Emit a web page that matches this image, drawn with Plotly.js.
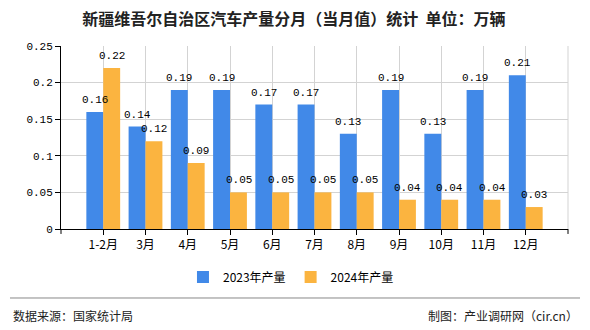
<!DOCTYPE html>
<html>
<head>
<meta charset="utf-8">
<script src="https://cdn.plot.ly/plotly-3.0.1.min.js"></script>
<style>html,body{margin:0;padding:0;background:#fff;}#chart{width:590px;height:330px;}</style>
</head>
<body>
<div id="chart"></div>
<script>
const categories = ["1-2月","3月","4月","5月","6月","7月","8月","9月","10月","11月","12月"];
const series2023 = [0.16,0.14,0.19,0.19,0.17,0.17,0.13,0.19,0.13,0.19,0.21];
const series2024 = [0.22,0.12,0.09,0.05,0.05,0.05,0.05,0.04,0.04,0.04,0.03];
const seriesNames = ["2023年产量","2024年产量"];
const yTickVals = [0,0.05,0.1,0.15,0.2,0.25];
const yTickText = ["0","0.05","0.1","0.15","0.2","0.25"];

const cjk = '"Noto Sans CJK SC", "Noto Sans", sans-serif';
const mono = '"Liberation Mono", "DejaVu Sans Mono", monospace';

function barTrace(name, vals, color){
  return {
    type:'bar', name:name, x:categories, y:vals,
    marker:{color:color, line:{width:0}},
    hoverinfo:'none'
  };
}

const data = [
  barTrace(seriesNames[0], series2023, '#4189e8'),
  barTrace(seriesNames[1], series2024, '#fbb440')
];

function labelAnns(vals, xshift){
  return vals.map((v,i)=>({
    x:categories[i], y:v, xref:'x', yref:'y', text:String(v), showarrow:false,
    xanchor:'center', yanchor:'middle', xshift:xshift, yshift:12,
    font:{family:mono, size:11, color:'#000'}
  }));
}

const layout = {
  width:590, height:330,
  margin:{l:61, r:22, t:46, b:101, pad:0},
  paper_bgcolor:'#fff', plot_bgcolor:'#fff',
  barmode:'group', bargap:0.2, bargroupgap:0,
  title:{text:'新疆维吾尔自治区汽车产量分月（当月值）统计  单位：万辆',
         font:{family:cjk, size:16, color:'#222', weight:'bold'},
         x:0.498, xref:'container', xanchor:'center', y:0.942, yref:'container', yanchor:'middle'},
  xaxis:{type:'category', range:[-1, categories.length],
         showline:true, linecolor:'#000', linewidth:1,
         ticks:'outside', ticklen:5, tickcolor:'#000', tickwidth:1,
         showgrid:true, gridcolor:'#d3d3d3', gridwidth:1,
         tickfont:{family:cjk, size:12, color:'#000'}, zeroline:false, fixedrange:true},
  yaxis:{range:[0,0.25], tickvals:yTickVals, ticktext:yTickText,
         showline:true, linecolor:'#000', linewidth:1,
         ticks:'outside', ticklen:5, tickcolor:'#000', tickwidth:1,
         showgrid:true, gridcolor:'#d3d3d3', gridwidth:1,
         tickfont:{family:mono, size:11, color:'#000'}, zeroline:false, fixedrange:true},
  showlegend:true,
  legend:{orientation:'h', x:0.4536, xanchor:'center', y:-0.262, yanchor:'middle',
          font:{family:cjk, size:12, color:'#000'}, bgcolor:'rgba(0,0,0,0)'},
  shapes:[
    {type:'line', xref:'paper', yref:'paper', x0:-0.1006, x1:1.0237, y0:-0.377, y1:-0.377,
     line:{color:'#888', width:1}},
    {type:'line', xref:'paper', yref:'paper', x0:1, x1:1, y0:0, y1:1,
     line:{color:'#d3d3d3', width:1}, layer:'below'},
    {type:'line', xref:'paper', yref:'paper', x0:0, x1:0, y0:0, y1:-0.027,
     line:{color:'#000', width:1}},
    {type:'line', xref:'paper', yref:'paper', x0:1, x1:1, y0:0, y1:-0.027,
     line:{color:'#000', width:1}}
  ],
  annotations:[
    ...labelAnns(series2023, -8.5),
    ...labelAnns(series2024, 8.5),
    {text:'数据来源：国家统计局', xref:'paper', yref:'paper', x:-0.0986, y:-0.475,
     xanchor:'left', yanchor:'middle', showarrow:false, font:{family:cjk, size:12, color:'#222'}},
    {text:'制图：产业调研网（cir.cn）', xref:'paper', yref:'paper', x:1.0237, y:-0.475,
     xanchor:'right', yanchor:'middle', showarrow:false, font:{family:cjk, size:12, color:'#222'}}
  ]
};

Plotly.newPlot('chart', data, layout, {staticPlot:true, displayModeBar:false});
</script>
</body>
</html>
